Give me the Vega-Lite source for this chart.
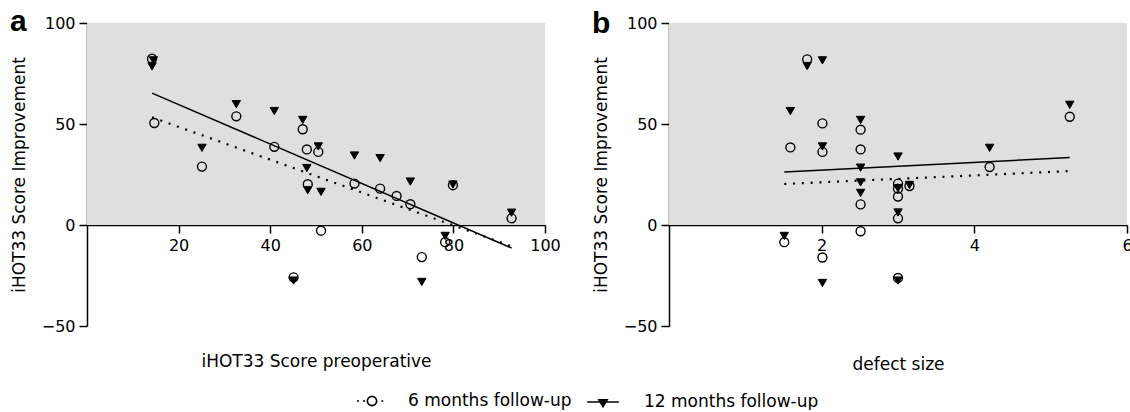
{
  "$schema": "https://vega.github.io/schema/vega-lite/v6.json",
  "background": "white",
  "padding": {"left": 10, "top": 7, "right": 0, "bottom": 0},
  "spacing": 124,
  "bounds": "flush",
  "config": {
    "view": {"stroke": null},
    "axis": {
      "domainColor": "black", "tickColor": "black", "labelColor": "black", "titleColor": "black",
      "domainWidth": 1.5, "tickWidth": 1.5, "tickSize": 8, "grid": false,
      "labelFont": "DejaVu Sans", "labelFontSize": 16, "labelPadding": 4, "labelFlush": false,
      "titleFont": "DejaVu Sans", "titleFontSize": 17, "titleFontWeight": "normal"
    }
  },
  "datasets": {
    "a_pts": [
      {"x": 14.2, "y": 82.3, "series": "6 months follow-up"},
      {"x": 14.7, "y": 50.5, "series": "6 months follow-up"},
      {"x": 25.1, "y": 28.9, "series": "6 months follow-up"},
      {"x": 32.6, "y": 53.8, "series": "6 months follow-up"},
      {"x": 40.9, "y": 38.7, "series": "6 months follow-up"},
      {"x": 47.1, "y": 47.4, "series": "6 months follow-up"},
      {"x": 48.0, "y": 37.4, "series": "6 months follow-up"},
      {"x": 50.5, "y": 36.2, "series": "6 months follow-up"},
      {"x": 48.2, "y": 20.2, "series": "6 months follow-up"},
      {"x": 51.1, "y": -2.8, "series": "6 months follow-up"},
      {"x": 45.1, "y": -25.9, "series": "6 months follow-up"},
      {"x": 58.4, "y": 20.5, "series": "6 months follow-up"},
      {"x": 64.0, "y": 18.0, "series": "6 months follow-up"},
      {"x": 67.6, "y": 14.4, "series": "6 months follow-up"},
      {"x": 70.6, "y": 10.3, "series": "6 months follow-up"},
      {"x": 73.1, "y": -15.9, "series": "6 months follow-up"},
      {"x": 78.2, "y": -8.5, "series": "6 months follow-up"},
      {"x": 79.9, "y": 19.7, "series": "6 months follow-up"},
      {"x": 92.7, "y": 3.3, "series": "6 months follow-up"},
      {"x": 14.5, "y": 81.5, "series": "12 months follow-up"},
      {"x": 14.2, "y": 78.5, "series": "12 months follow-up"},
      {"x": 25.1, "y": 38.2, "series": "12 months follow-up"},
      {"x": 32.6, "y": 59.8, "series": "12 months follow-up"},
      {"x": 40.9, "y": 56.4, "series": "12 months follow-up"},
      {"x": 47.1, "y": 52.0, "series": "12 months follow-up"},
      {"x": 50.5, "y": 38.9, "series": "12 months follow-up"},
      {"x": 48.0, "y": 28.2, "series": "12 months follow-up"},
      {"x": 48.2, "y": 17.2, "series": "12 months follow-up"},
      {"x": 51.1, "y": 16.4, "series": "12 months follow-up"},
      {"x": 45.1, "y": -27.5, "series": "12 months follow-up"},
      {"x": 58.4, "y": 34.4, "series": "12 months follow-up"},
      {"x": 64.0, "y": 33.1, "series": "12 months follow-up"},
      {"x": 70.6, "y": 21.5, "series": "12 months follow-up"},
      {"x": 73.1, "y": -28.2, "series": "12 months follow-up"},
      {"x": 78.2, "y": -5.4, "series": "12 months follow-up"},
      {"x": 79.9, "y": 20.0, "series": "12 months follow-up"},
      {"x": 92.7, "y": 6.1, "series": "12 months follow-up"}
    ],
    "a_fit": [
      {"x": 14.2, "y": 53.3, "series": "6 months follow-up"},
      {"x": 92.7, "y": -10.5, "series": "6 months follow-up"},
      {"x": 14.2, "y": 65.3, "series": "12 months follow-up"},
      {"x": 92.7, "y": -11.4, "series": "12 months follow-up"}
    ],
    "b_pts": [
      {"x": 1.81, "y": 82.0, "series": "6 months follow-up"},
      {"x": 1.59, "y": 38.4, "series": "6 months follow-up"},
      {"x": 2.01, "y": 50.3, "series": "6 months follow-up"},
      {"x": 2.01, "y": 36.2, "series": "6 months follow-up"},
      {"x": 1.51, "y": -8.5, "series": "6 months follow-up"},
      {"x": 2.01, "y": -16.1, "series": "6 months follow-up"},
      {"x": 2.51, "y": 47.2, "series": "6 months follow-up"},
      {"x": 2.51, "y": 37.4, "series": "6 months follow-up"},
      {"x": 2.51, "y": 10.2, "series": "6 months follow-up"},
      {"x": 2.51, "y": -3.1, "series": "6 months follow-up"},
      {"x": 3.0, "y": 20.5, "series": "6 months follow-up"},
      {"x": 3.0, "y": 18.0, "series": "6 months follow-up"},
      {"x": 3.0, "y": 14.1, "series": "6 months follow-up"},
      {"x": 3.0, "y": 3.3, "series": "6 months follow-up"},
      {"x": 3.0, "y": -26.2, "series": "6 months follow-up"},
      {"x": 3.15, "y": 19.3, "series": "6 months follow-up"},
      {"x": 4.2, "y": 28.7, "series": "6 months follow-up"},
      {"x": 5.25, "y": 53.6, "series": "6 months follow-up"},
      {"x": 1.81, "y": 78.7, "series": "12 months follow-up"},
      {"x": 2.01, "y": 81.5, "series": "12 months follow-up"},
      {"x": 1.59, "y": 56.4, "series": "12 months follow-up"},
      {"x": 2.01, "y": 38.9, "series": "12 months follow-up"},
      {"x": 1.51, "y": -5.4, "series": "12 months follow-up"},
      {"x": 2.01, "y": -28.7, "series": "12 months follow-up"},
      {"x": 2.51, "y": 52.0, "series": "12 months follow-up"},
      {"x": 2.51, "y": 28.4, "series": "12 months follow-up"},
      {"x": 2.51, "y": 21.1, "series": "12 months follow-up"},
      {"x": 2.51, "y": 15.9, "series": "12 months follow-up"},
      {"x": 3.0, "y": 33.9, "series": "12 months follow-up"},
      {"x": 3.0, "y": 18.2, "series": "12 months follow-up"},
      {"x": 3.0, "y": 6.2, "series": "12 months follow-up"},
      {"x": 3.0, "y": -27.5, "series": "12 months follow-up"},
      {"x": 3.15, "y": 19.8, "series": "12 months follow-up"},
      {"x": 4.2, "y": 38.2, "series": "12 months follow-up"},
      {"x": 5.25, "y": 59.5, "series": "12 months follow-up"}
    ],
    "b_fit": [
      {"x": 1.51, "y": 20.3, "series": "6 months follow-up"},
      {"x": 5.25, "y": 26.7, "series": "6 months follow-up"},
      {"x": 1.51, "y": 26.2, "series": "12 months follow-up"},
      {"x": 5.25, "y": 33.4, "series": "12 months follow-up"}
    ]
  },
  "hconcat": [
    {
      "width": 458, "height": 303,
      "title": {"text": "a", "anchor": "start", "frame": "group", "orient": "top", "font": "Liberation Sans", "fontSize": 30, "fontWeight": "bold", "color": "black", "baseline": "alphabetic", "offset": 0, "dx": -77, "dy": 46},
      "resolve": {"scale": {"opacity": "independent"}, "legend": {"opacity": "independent"}},
      "layer": [
        {
          "data": {"values": [{}]},
          "mark": {"type": "rect", "color": "#dfdfdf"},
          "encoding": {
            "x": {"datum": 0, "type": "quantitative", "scale": {"domain": [0, 100], "nice": false, "zero": false},
                  "axis": {"values": [20, 40, 60, 80, 100], "offset": -101, "title": "iHOT33 Score preoperative", "titleY": 141, "titleBaseline": "alphabetic"}},
            "x2": {"datum": 100},
            "y": {"datum": 0, "type": "quantitative", "scale": {"domain": [-50, 100], "nice": false, "zero": false},
                  "axis": {"values": [-50, 0, 50, 100], "title": "iHOT33 Score Improvement", "titleX": -63, "titleY": 151.5, "titleAngle": 270, "titleAlign": "center", "titleBaseline": "alphabetic"}},
            "y2": {"datum": 100}
          }
        },
        {
          "data": {"name": "a_fit"},
          "transform": [{"filter": "datum.series === '6 months follow-up'"}],
          "mark": {"type": "line", "color": "black", "strokeWidth": 2.2, "strokeDash": [2, 6.8], "strokeCap": "butt"},
          "encoding": {
            "x": {"field": "x", "type": "quantitative", "title": "iHOT33 Score preoperative", "scale": {"domain": [0, 100], "nice": false, "zero": false}},
            "y": {"field": "y", "type": "quantitative", "title": "iHOT33 Score Improvement", "scale": {"domain": [-50, 100], "nice": false, "zero": false}}
          }
        },
        {
          "data": {"name": "a_fit"},
          "transform": [{"filter": "datum.series === '12 months follow-up'"}],
          "mark": {"type": "line", "color": "black", "strokeWidth": 1.5, "strokeCap": "butt"},
          "encoding": {
            "x": {"field": "x", "type": "quantitative", "title": "iHOT33 Score preoperative", "scale": {"domain": [0, 100], "nice": false, "zero": false}},
            "y": {"field": "y", "type": "quantitative", "title": "iHOT33 Score Improvement", "scale": {"domain": [-50, 100], "nice": false, "zero": false}},
            "opacity": {"field": "series", "type": "ordinal",
              "scale": {"domain": ["12 months follow-up"], "range": [1, 1]},
              "legend": {"title": null, "orient": "none", "legendX": 499, "legendY": 362, "direction": "horizontal", "padding": 0,
                "symbolSize": 1000, "symbolType": "M-1,0L1,0M-0.27,-0.15L0.27,-0.15L0,0.3ZM-0.24,-0.1L0.24,-0.1M-0.21,-0.05L0.21,-0.05M-0.15,0.05L0.15,0.05M-0.12,0.1L0.12,0.1M-0.09,0.15L0.09,0.15M-0.06,0.2L0.06,0.2M-0.03,0.25L0.03,0.25",
                "symbolStrokeColor": "black", "symbolFillColor": "black", "symbolStrokeWidth": 1.5,
                "labelFont": "DejaVu Sans", "labelFontSize": 17, "labelColor": "black", "labelOffset": 24, "labelLimit": 400}}
          }
        },
        {
          "data": {"name": "a_pts"},
          "transform": [{"filter": "datum.series === '6 months follow-up'"}],
          "mark": {"type": "point", "shape": "circle", "stroke": "black", "fill": "transparent", "strokeWidth": 1.4, "size": 80},
          "encoding": {
            "x": {"field": "x", "type": "quantitative", "title": "iHOT33 Score preoperative", "scale": {"domain": [0, 100], "nice": false, "zero": false}},
            "y": {"field": "y", "type": "quantitative", "title": "iHOT33 Score Improvement", "scale": {"domain": [-50, 100], "nice": false, "zero": false}},
            "opacity": {"field": "series", "type": "ordinal",
              "scale": {"domain": ["6 months follow-up"], "range": [1, 1]},
              "legend": {"title": null, "orient": "none", "legendX": 269, "legendY": 362, "direction": "horizontal", "padding": 0,
                "symbolSize": 900, "symbolType": "M-1,0L-0.87,0M-0.6,0L-0.47,0M0.62,0L0.75,0M0.31,0A0.31,0.31,0,1,1,-0.31,0A0.31,0.31,0,1,1,0.31,0",
                "symbolStrokeColor": "black", "symbolFillColor": "transparent", "symbolStrokeWidth": 1.6,
                "labelFont": "DejaVu Sans", "labelFontSize": 17, "labelColor": "black", "labelOffset": 20, "labelLimit": 400}}
          }
        },
        {
          "data": {"name": "a_pts"},
          "transform": [{"filter": "datum.series === '12 months follow-up'"}],
          "mark": {"type": "point", "shape": "triangle-down", "filled": true, "fill": "black", "stroke": "black", "strokeWidth": 1, "opacity": 1, "size": 70},
          "encoding": {
            "x": {"field": "x", "type": "quantitative", "title": "iHOT33 Score preoperative", "scale": {"domain": [0, 100], "nice": false, "zero": false}},
            "y": {"field": "y", "type": "quantitative", "title": "iHOT33 Score Improvement", "scale": {"domain": [-50, 100], "nice": false, "zero": false}}
          }
        }
      ]
    },
    {
      "width": 458, "height": 303,
      "title": {"text": "b", "anchor": "start", "frame": "group", "orient": "top", "font": "Liberation Sans", "fontSize": 30, "fontWeight": "bold", "color": "black", "baseline": "alphabetic", "offset": 0, "dx": -77, "dy": 48},
      "layer": [
        {
          "data": {"values": [{}]},
          "mark": {"type": "rect", "color": "#dfdfdf"},
          "encoding": {
            "x": {"datum": 0, "type": "quantitative", "scale": {"domain": [0, 6], "nice": false, "zero": false},
                  "axis": {"values": [2, 4, 6], "format": "d", "offset": -101, "title": "defect size", "titleY": 144, "titleBaseline": "alphabetic"}},
            "x2": {"datum": 6},
            "y": {"datum": 0, "type": "quantitative", "scale": {"domain": [-50, 100], "nice": false, "zero": false},
                  "axis": {"values": [-50, 0, 50, 100], "title": "iHOT33 Score Improvement", "titleX": -63, "titleY": 151.5, "titleAngle": 270, "titleAlign": "center", "titleBaseline": "alphabetic"}},
            "y2": {"datum": 100}
          }
        },
        {
          "data": {"name": "b_fit"},
          "transform": [{"filter": "datum.series === '6 months follow-up'"}],
          "mark": {"type": "line", "color": "black", "strokeWidth": 2.2, "strokeDash": [2, 6.8], "strokeCap": "butt"},
          "encoding": {
            "x": {"field": "x", "type": "quantitative", "title": "defect size", "scale": {"domain": [0, 6], "nice": false, "zero": false}},
            "y": {"field": "y", "type": "quantitative", "title": "iHOT33 Score Improvement", "scale": {"domain": [-50, 100], "nice": false, "zero": false}}
          }
        },
        {
          "data": {"name": "b_fit"},
          "transform": [{"filter": "datum.series === '12 months follow-up'"}],
          "mark": {"type": "line", "color": "black", "strokeWidth": 1.5},
          "encoding": {
            "x": {"field": "x", "type": "quantitative", "title": "defect size", "scale": {"domain": [0, 6], "nice": false, "zero": false}},
            "y": {"field": "y", "type": "quantitative", "title": "iHOT33 Score Improvement", "scale": {"domain": [-50, 100], "nice": false, "zero": false}}
          }
        },
        {
          "data": {"name": "b_pts"},
          "transform": [{"filter": "datum.series === '6 months follow-up'"}],
          "mark": {"type": "point", "shape": "circle", "stroke": "black", "fill": "transparent", "strokeWidth": 1.4, "opacity": 1, "size": 80},
          "encoding": {
            "x": {"field": "x", "type": "quantitative", "title": "defect size", "scale": {"domain": [0, 6], "nice": false, "zero": false}},
            "y": {"field": "y", "type": "quantitative", "title": "iHOT33 Score Improvement", "scale": {"domain": [-50, 100], "nice": false, "zero": false}}
          }
        },
        {
          "data": {"name": "b_pts"},
          "transform": [{"filter": "datum.series === '12 months follow-up'"}],
          "mark": {"type": "point", "shape": "triangle-down", "filled": true, "fill": "black", "stroke": "black", "strokeWidth": 1, "opacity": 1, "size": 70},
          "encoding": {
            "x": {"field": "x", "type": "quantitative", "title": "defect size", "scale": {"domain": [0, 6], "nice": false, "zero": false}},
            "y": {"field": "y", "type": "quantitative", "title": "iHOT33 Score Improvement", "scale": {"domain": [-50, 100], "nice": false, "zero": false}}
          }
        }
      ]
    }
  ]
}
